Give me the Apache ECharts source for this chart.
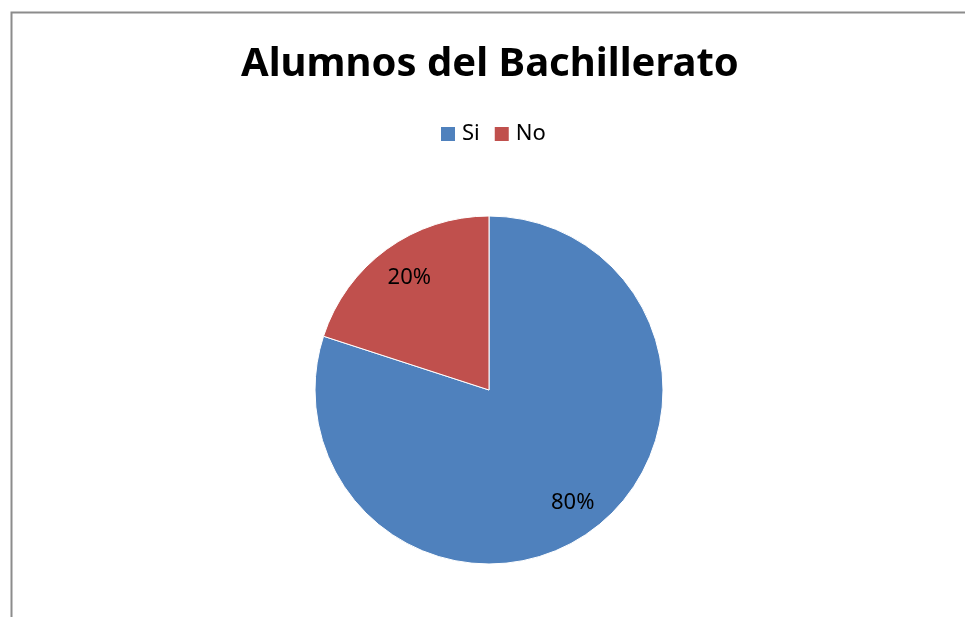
<!DOCTYPE html>
<html>
<head>
<meta charset="utf-8">
<script src="https://cdn.jsdelivr.net/npm/echarts@6/dist/echarts.min.js"></script>
<style>
  html, body { margin: 0; padding: 0; background: #fff; }
  #chart { width: 965px; height: 617px; }
</style>
</head>
<body>
<div id="chart"></div>
<script>
const categories = ["Si", "No"];
const values = [80, 20];
const colors = ["#4F81BD", "#C0504D"];

const chart = echarts.init(document.getElementById("chart"));
const pieData = categories.map((name, i) => ({ name: name, value: values[i] }));

chart.setOption({
  animation: false,
  title: {
    text: "Alumnos del Bachillerato",
    left: 236,
    top: 40,
    textStyle: { fontFamily: "Noto Sans", fontWeight: "bold", fontSize: 40, color: "#000" }
  },
  legend: {
    data: categories,
    top: 118,
    left: 436,
    icon: "rect",
    itemWidth: 14,
    itemHeight: 14,
    itemGap: 15,
    itemStyle: { borderWidth: 0 },
    textStyle: { fontFamily: "Noto Sans", fontSize: 22, color: "#000", padding: [0, 0, 0, 2] }
  },
  color: colors,
  graphic: [
    {
      type: "rect",
      left: 9,
      top: 10,
      shape: { width: 1000, height: 700 },
      style: { fill: null, stroke: "#8c8c8c", lineWidth: 2 },
      silent: true
    }
  ],
  series: [
    {
      type: "pie",
      center: [489, 390],
      radius: [0, 174],
      startAngle: 90,
      clockwise: true,
      data: pieData,
      label: { show: false },
      labelLine: { show: false },
      itemStyle: { borderColor: "#fff", borderWidth: 1 },
      emphasis: { disabled: true }
    },
    {
      // label-only overlay so the percentages sit ~3/4 of the way out
      type: "pie",
      center: [491, 390],
      radius: [0, 272],
      startAngle: 90,
      clockwise: true,
      silent: true,
      data: pieData,
      itemStyle: { color: "rgba(0,0,0,0)" },
      label: {
        show: true,
        position: "inside",
        formatter: "{d}%",
        fontFamily: "Noto Sans",
        fontSize: 22,
        color: "#000"
      },
      labelLine: { show: false },
      emphasis: { disabled: true }
    }
  ]
});
</script>
</body>
</html>
